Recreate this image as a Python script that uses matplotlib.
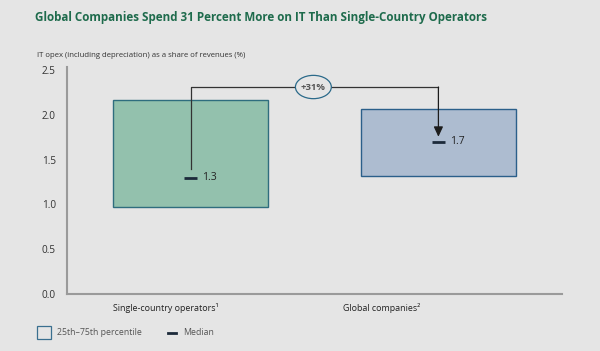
import matplotlib.pyplot as plt
from matplotlib.patches import Rectangle, Ellipse

categories = ["Single-country operators\u00b9", "Global companies\u00b2"]
q25 = [0.97, 1.32]
q75 = [2.17, 2.06]
medians = [1.3, 1.7]
change_label = "+31%"
yticks = [0.0, 0.5, 1.0, 1.5, 2.0, 2.5]

plt.rcParams['font.family'] = ['Open Sans', 'DejaVu Sans']
bg = '#e5e5e5'
fills = ['#93c1ad', '#adbcd0']
edges = ['#2f6d7e', '#2b5f8a']

fig = plt.figure(figsize=(6, 3.51), dpi=100, facecolor=bg)
ax = fig.add_axes([0.1117, 0.1624, 0.8253, 0.6382], facecolor=bg)

pos = [0.5, 1.5]
w = 0.626
for i in range(2):
    ax.add_patch(Rectangle((pos[i] - w / 2, q25[i]), w, q75[i] - q25[i],
                           facecolor=fills[i], edgecolor=edges[i], lw=1))
    ax.plot([pos[i] - 0.027, pos[i] + 0.027], [medians[i]] * 2, color='#1c2a3a', lw=2,
            solid_capstyle='butt', zorder=4)
    ax.text(pos[i] + 0.045, medians[i], f"{medians[i]:.1f}", va='center', ha='left',
            fontsize=7.5, color='#222222')

# connector
xa = pos[0]
xb = pos[1]
top = 2.31
ax.plot([xa, xa, xb], [medians[0] + 0.1, top, top], color='#333333', lw=0.9, zorder=3)
ax.annotate('', xy=(xb, medians[1] + 0.055), xytext=(xb, top),
            arrowprops=dict(arrowstyle='-|>,head_length=0.6,head_width=0.28',
                            color='#1c1c1c', lw=0.9, shrinkA=0, shrinkB=0), zorder=3)
ex = 0.995
ax.add_patch(Ellipse((ex, top), 0.145, 0.26, facecolor=bg, edgecolor='#2b6a8a',
                     lw=0.9, zorder=5))
ax.text(ex, top, change_label, ha='center', va='center', fontsize=6.8,
        color='#555555', fontweight='bold', zorder=6)

ax.set_xlim(0, 2)
ax.set_ylim(0, 2.5)
ax.set_yticks(yticks)
ax.set_yticklabels([f"{t:.1f}" for t in yticks], fontsize=7.2, color='#333333')
ax.set_xticks([])
ax.tick_params(length=0)
ax.tick_params(axis='y', pad=8)
for s in ['top', 'right']:
    ax.spines[s].set_visible(False)
for s in ['left', 'bottom']:
    ax.spines[s].set_color('#9a9a9a')
    ax.spines[s].set_linewidth(1.5)
ax.spines['left'].set_bounds(0, 2.53)

label_x = [0.40, 1.27]
for lx, c in zip(label_x, categories):
    ax.text(lx, -0.16, c, ha='center', va='center', fontsize=6.4, color='#222222')

fig.text(0.058, 0.95, "Global Companies Spend 31 Percent More on IT Than Single-Country Operators",
         ha='left', va='center', fontsize=8.4, fontweight='bold', color='#1e6b4c')
fig.text(0.062, 0.843, "IT opex (including depreciation) as a share of revenues (%)",
         ha='left', va='center', fontsize=5.6, color='#333333')

# legend
fig.patches.append(Rectangle((0.061, 0.034), 0.024, 0.037, transform=fig.transFigure,
                             facecolor=bg, edgecolor='#3a6f8f', lw=0.9))
fig.text(0.095, 0.052, "25th\u201375th percentile", ha='left', va='center',
         fontsize=6.3, color='#555555')
fig.lines.append(plt.Line2D([0.28, 0.293], [0.052, 0.052], transform=fig.transFigure,
                            color='#1c2a3a', lw=2))
fig.text(0.306, 0.052, "Median", ha='left', va='center', fontsize=6.3, color='#555555')

fig.savefig('out.png', dpi=100, facecolor=bg)
